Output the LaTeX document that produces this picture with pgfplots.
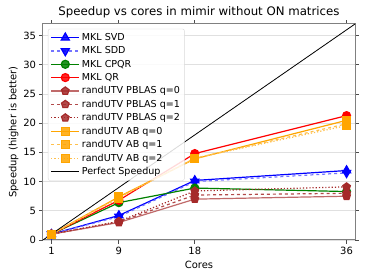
\documentclass[border=0pt]{standalone}
\usepackage{pgfplots}
\pgfplotsset{compat=1.18}
\usepackage{fontspec}
\setmainfont{DejaVu Sans}
\definecolor{mblue}{RGB}{0,0,255}
\definecolor{mgreen}{RGB}{0,128,0}
\definecolor{mred}{RGB}{255,0,0}
\definecolor{mbrown}{RGB}{165,42,42}
\definecolor{morange}{RGB}{255,165,0}
\definecolor{spine}{RGB}{128,128,128}
\begin{document}
\begin{tikzpicture}
\begin{axis}[
  at={(0,0)}, anchor=south west,
  scale only axis,
  width=312bp, height=216bp,
  xmin=0, xmax=37, ymin=0, ymax=37,
  xtick={1,9,18,36}, ytick={0,5,10,15,20,25,30,35},
  /pgf/number format/assume math mode=true,
  tick label style={font=\fontsize{10}{12}\selectfont},
  tick align=outside,
  major tick length=3.5bp,
  tick style={black!70, line width=0.8bp},
  axis line style={spine, line width=1bp},
  ymajorgrids,
  grid style={black!12, line width=0.8bp},
  title={Speedup vs cores in mimir without ON matrices},
  title style={font=\fontsize{11.8}{14}\selectfont, yshift=-3bp},
  xlabel={Cores}, ylabel={Speedup (higher is better)},
  label style={font=\fontsize{10}{12}\selectfont},
  xlabel style={yshift=0bp},
  ylabel style={yshift=-2bp},
  legend style={at={(0.016,0.978)}, anchor=north west, font=\fontsize{9.6}{11}\selectfont,
    draw=black!15, rounded corners=2bp, row sep=0.7bp, inner sep=2.5bp, fill=white, fill opacity=0.85, text opacity=1},
  legend cell align=left,
  legend image code/.code={\draw[mark repeat=2, mark phase=2] plot coordinates {(0bp,0bp) (14bp,0bp) (28bp,0bp)};},
  every axis plot/.append style={line width=1.2bp, mark size=4bp},
]
\addplot[mblue, mark=triangle*, mark options={solid, mark size=4.7bp}] coordinates {(1,1) (9,4.2) (18,10.2) (36,11.9)};
\addlegendentry{MKL SVD}
\addplot[mblue!55, dashed, mark=triangle*, mark options={solid, fill=mblue, draw=mblue, rotate=180, mark size=4.7bp}] coordinates {(1,1) (9,4.0) (18,10.0) (36,11.5)};
\addlegendentry{MKL SDD}
\addplot[mgreen, mark=*] coordinates {(1,1) (9,6.4) (18,8.9) (36,8.3)};
\addlegendentry{MKL CPQR}
\addplot[mred, mark=*] coordinates {(1,1) (9,6.8) (18,14.8) (36,21.3)};
\addlegendentry{MKL QR}
\addplot[mbrown!70, mark=pentagon*, mark options={solid, fill=mbrown, draw=mbrown}] coordinates {(1,1) (9,3.0) (18,7.0) (36,7.5)};
\addlegendentry{randUTV PBLAS q=0}
\addplot[mbrown!85, dashed, mark=pentagon*, mark options={solid, fill=mbrown, draw=mbrown}] coordinates {(1,1) (9,3.1) (18,7.7) (36,8.0)};
\addlegendentry{randUTV PBLAS q=1}
\addplot[mbrown, dotted, mark=pentagon*, mark options={solid, fill=mbrown, draw=mbrown}] coordinates {(1,1) (9,3.2) (18,8.4) (36,9.1)};
\addlegendentry{randUTV PBLAS q=2}
\addplot[morange, mark=square*] coordinates {(1,1) (9,7.4) (18,13.9) (36,20.5)};
\addlegendentry{randUTV AB q=0}
\addplot[morange!70, dashed, mark=square*, mark options={solid, fill=morange, draw=morange}] coordinates {(1,1) (9,7.3) (18,14.0) (36,19.9)};
\addlegendentry{randUTV AB q=1}
\addplot[morange!70, dotted, mark=square*, mark options={solid, fill=morange, draw=morange}] coordinates {(1,1) (9,7.2) (18,14.0) (36,19.6)};
\addlegendentry{randUTV AB q=2}
\addplot[black, line width=0.8bp, mark=none] coordinates {(0,0) (37,37)};
\addlegendentry{Perfect Speedup}
\end{axis}
\pgfresetboundingbox
\useasboundingbox (-43bp,-40bp) rectangle (331bp,240bp);
\end{tikzpicture}
\end{document}
